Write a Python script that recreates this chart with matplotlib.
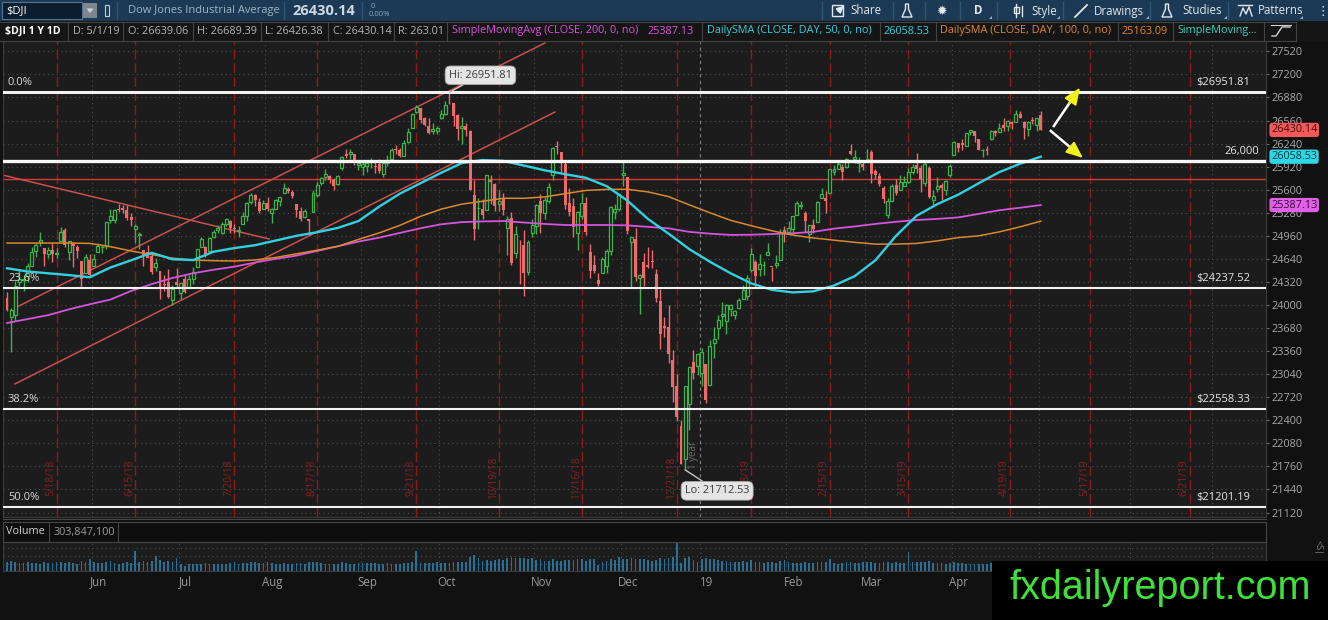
import numpy as np
import pandas as pd
import matplotlib
matplotlib.use('Agg')
import matplotlib.pyplot as plt
import matplotlib.transforms as mtransforms
from matplotlib.patches import Rectangle, Polygon

plt.rcParams['font.family'] = ['Open Sans', 'DejaVu Sans']

# ---- data: $DJI daily candles, 5/2/18 .. 5/1/19 ----
holidays = ['2018-05-28', '2018-07-04', '2018-09-03', '2018-11-22', '2018-12-05',
            '2018-12-25', '2019-01-01', '2019-01-21', '2019-02-18', '2019-04-19',
            '2019-05-27', '2019-07-04']

opens = [
    24097, 23836, 23866, 24317, 24341, 24400, 24543, 24744, 24868, 24792, 24710, 24758, 24714, 24883, 25047, 24738, 24847, 24800, 24605, 24440, 24625,
    24542, 24730, 24800, 24824, 25174, 25175, 25330, 25350, 25320, 25222, 25050, 24970, 24765, 24740, 24680, 24530, 24470, 24294, 24324, 24066, 24320,
    24161, 24362, 24240, 24360, 24524, 24804, 24801, 24749, 24948, 25040, 25005, 25125, 25172, 25060, 25024, 25125, 25240, 25427, 25520, 25430, 25330,
    25420, 25275, 25330, 25450, 25560, 25610, 25570, 25400, 25300, 25220, 25196, 25290, 25530, 25690, 25780, 25790, 25730, 25680, 25900, 26090, 26090, 26090, 25940,
    25916, 25930, 25990, 25930, 25960, 25820, 25970, 26030, 26165, 26150, 26070, 26260, 26460, 26680, 26730, 26590, 26490, 26420, 26410,
    26600, 26650, 26830, 26800, 26630, 26450, 26490, 26420, 25520, 25340, 25330, 25320, 25740, 25680, 25400, 25470, 25070, 25210, 24720, 24700, 24830, 24460, 25000,
    25100, 25450, 25270, 25450, 25800, 26200, 26120, 25960, 25420, 25380, 25000, 25230, 25420, 24740, 24560, 24350, 24450, 24540, 24750, 25290, 25330,
    25800, 25780, 24880, 24920, 24370, 24600, 24550, 24600, 24430, 24050, 23710, 23690, 23240, 22880, 22320, 21860, 22630, 23210, 23150,
    23060, 23180, 22890, 23470, 23680, 23850, 23780, 23940, 23860, 23960, 24090, 24130, 24480, 24600, 24500, 24550, 24700, 24530, 24550, 24630, 25040,
    25020, 25060, 25250, 25370, 25270, 24980, 25110, 25150, 25490, 25490, 25560, 25850, 25890, 25920, 25920, 26140, 26030, 25970, 25960,
    26020, 26120, 25860, 25790, 25630, 25250, 25450, 25660, 25600, 25650, 25710, 25850, 25940, 25900, 25700, 25900, 25460, 25610, 25660, 25600, 25800,
    26080, 26250, 26250, 26200, 26400, 26410, 26300, 26150, 26170, 26300, 26420, 26400, 26500, 26480, 26540, 26540, 26650, 26540, 26440, 26560, 26500,
    26639.06,
]
highs = [
    24185, 23952, 24333, 24479, 24412, 24586, 24800, 24862, 25013, 24792, 24811, 24860, 24789, 25086, 25064, 24894, 24872, 24830, 24605, 24714, 24712,
    24702, 24857, 24827, 25150, 25326, 25336, 25402, 25387, 25385, 25273, 25120, 25010, 24769, 24830, 24720, 24650, 24470, 24414, 24504, 24284, 24509,
    24311, 24423, 24421, 24527, 24777, 24938, 24820, 24950, 25040, 25108, 25148, 25214, 25175, 25128, 25092, 25289, 25424, 25552, 25540, 25480, 25463,
    25500, 25350, 25470, 25503, 25692, 25642, 25600, 25400, 25360, 25330, 25196, 25593, 25710, 25781, 25888, 25800, 25767, 25810, 26070, 26170, 26167, 26100, 26000,
    25980, 26015, 26036, 26010, 26030, 25990, 26080, 26180, 26220, 26180, 26290, 26450, 26670, 26770, 26740, 26610, 26600, 26520, 26480,
    26700, 26830, 26951.81, 26810, 26650, 26610, 26520, 26430, 25740, 25480, 25470, 25800, 25800, 25700, 25600, 25550, 25230, 25290, 25100, 24900, 25040, 24900, 25200,
    25400, 25540, 25500, 25690, 26190, 26280, 26130, 26010, 25630, 25490, 25310, 25550, 25500, 24850, 24700, 24440, 24670, 24780, 25370, 25400, 25560,
    26010, 25780, 24950, 25070, 24430, 24720, 24800, 24770, 24500, 24220, 23840, 24000, 23380, 23040, 22410, 22880, 23140, 23380, 23330,
    23400, 23180, 23520, 23690, 23860, 24040, 24010, 24020, 23930, 24100, 24280, 24420, 24790, 24630, 24710, 24610, 24860, 24530, 24700, 25060, 25090,
    25170, 25240, 25440, 25440, 25300, 25110, 25190, 25440, 25620, 25580, 25890, 25940, 26000, 25950, 26040, 26240, 26150, 26050, 26010,
    26160, 26150, 25890, 25830, 25650, 25480, 25680, 25750, 25800, 25790, 25900, 25960, 26110, 25940, 26000, 25930, 25600, 25780, 25700, 25740, 25950,
    26270, 26250, 26300, 26390, 26430, 26410, 26300, 26170, 26200, 26430, 26430, 26530, 26590, 26570, 26560, 26700, 26690, 26560, 26550, 26610, 26600,
    26689.39,
]
lows = [
    23913, 23344, 23778, 24263, 24198, 24321, 24543, 24671, 24824, 24546, 24650, 24601, 24651, 24883, 24802, 24626, 24525, 24646, 24252, 24440, 24390,
    24542, 24730, 24725, 24780, 25135, 25140, 25294, 25274, 25180, 25102, 24866, 24784, 24535, 24650, 24430, 24470, 24084, 24197, 24100, 23997, 24247,
    24085, 24168, 24240, 24288, 24524, 24804, 24661, 24749, 24928, 25000, 24992, 25100, 24997, 25003, 24938, 25125, 25160, 25400, 25380, 25280, 25330,
    25300, 25140, 25330, 25371, 25550, 25549, 25480, 25220, 25160, 25210, 24965, 25290, 25500, 25670, 25740, 25700, 25600, 25660, 25880, 26040, 26032, 25940, 25880,
    25800, 25850, 25900, 25830, 25830, 25780, 25930, 26030, 26100, 26050, 26070, 26250, 26460, 26660, 26530, 26480, 26370, 26380, 26380,
    26580, 26640, 26790, 26480, 26290, 26240, 26340, 25590, 24900, 25050, 25190, 25320, 25400, 25300, 25300, 25250, 24690, 24550, 24650, 24290, 24120, 24410, 24950,
    24990, 25000, 25200, 25420, 25740, 26090, 25850, 25330, 25230, 24950, 24770, 25200, 24970, 24370, 24440, 24270, 24450, 24450, 24700, 25190, 25300,
    25650, 24980, 24240, 24340, 23880, 24270, 24520, 24510, 24040, 23390, 23560, 23200, 22660, 22390, 21790, 21712.53, 22270, 22980, 23030,
    22880, 22640, 22890, 23270, 23530, 23710, 23600, 23850, 23800, 23940, 24080, 24070, 24460, 24230, 24400, 24420, 24700, 24330, 24520, 24630, 24880,
    25000, 24990, 25250, 25330, 25010, 24880, 25000, 25150, 25480, 25280, 25560, 25800, 25890, 25740, 25900, 26080, 25970, 25850, 25870,
    25990, 25700, 25750, 25650, 25420, 25210, 25450, 25520, 25600, 25650, 25700, 25820, 25830, 25570, 25650, 25480, 25380, 25570, 25460, 25530, 25770,
    26080, 26130, 26150, 26200, 26360, 26260, 26150, 26060, 26080, 26290, 26340, 26400, 26420, 26420, 26440, 26540, 26590, 26300, 26340, 26510, 26410,
    26426.38,
]
closes = [
    23925, 23930, 24263, 24357, 24360, 24543, 24740, 24831, 24899, 24706, 24769, 24714, 24715, 25013, 24834, 24887, 24812, 24753, 24361, 24668, 24416,
    24635, 24814, 24800, 25146, 25241, 25317, 25322, 25321, 25201, 25175, 25090, 24987, 24700, 24658, 24462, 24581, 24253, 24283, 24118, 24216, 24271,
    24307, 24175, 24357, 24456, 24777, 24920, 24700, 24925, 25019, 25064, 25120, 25199, 25065, 25058, 25044, 25242, 25414, 25527, 25451, 25307, 25415,
    25334, 25326, 25463, 25502, 25629, 25584, 25509, 25313, 25188, 25300, 25162, 25559, 25669, 25759, 25822, 25734, 25657, 25790, 26050, 26064, 26125, 25987, 25965,
    25952, 25975, 25996, 25917, 25857, 25971, 25999, 26146, 26155, 26062, 26247, 26406, 26657, 26744, 26562, 26492, 26385, 26440, 26458,
    26651, 26774, 26828, 26627, 26447, 26487, 26431, 25599, 25053, 25340, 25251, 25798, 25707, 25379, 25444, 25317, 25191, 24583, 24985, 24688, 24443, 24875, 25116,
    25381, 25271, 25462, 25635, 26180, 26191, 25989, 25387, 25286, 25081, 25289, 25413, 25017, 24466, 24465, 24286, 24640, 24749, 25366, 25339, 25538,
    25826, 25027, 24948, 24389, 24423, 24370, 24527, 24597, 24101, 23593, 23676, 23324, 22860, 22445, 21792, 22878, 23139, 23062, 23327,
    23346, 22686, 23433, 23531, 23787, 23879, 24002, 23996, 23910, 24066, 24207, 24370, 24706, 24404, 24576, 24553, 24737, 24528, 24580, 25015, 25000,
    25064, 25239, 25412, 25390, 25170, 25106, 25053, 25426, 25543, 25439, 25883, 25891, 25954, 25851, 26032, 26092, 26058, 25985, 25916,
    26026, 25820, 25807, 25673, 25473, 25450, 25651, 25555, 25703, 25710, 25849, 25914, 25887, 25746, 25963, 25502, 25517, 25658, 25626, 25717, 25929,
    26258, 26179, 26218, 26385, 26425, 26341, 26151, 26157, 26143, 26412, 26385, 26453, 26450, 26560, 26511, 26656, 26597, 26462, 26543, 26554, 26593,
    26430.14,
]
volumes_m = [
    300, 330, 290, 260, 270, 280, 270, 250, 240, 290, 260, 250, 290, 280, 270, 280, 260, 220, 320, 290, 380,
    290, 270, 260, 300, 310, 260, 240, 260, 280, 270, 640, 280, 330, 300, 320, 470, 350, 290, 330, 300, 430,
    230, 170, 220, 210, 240, 230, 250, 220, 230, 210, 230, 240, 250, 280, 230, 260, 270, 290, 280, 270, 260,
    280, 270, 240, 230, 260, 230, 220, 260, 250, 230, 300, 290, 290, 250, 240, 230, 220, 240, 280, 250, 230, 220, 250,
    250, 250, 260, 250, 240, 230, 250, 240, 230, 240, 250, 260, 280, 640, 270, 250, 270, 260, 300,
    250, 270, 260, 280, 290, 280, 300, 450, 520, 410, 330, 350, 330, 360, 380, 350, 420, 450, 410, 420, 430, 400, 420,
    360, 370, 320, 330, 400, 330, 330, 350, 360, 360, 380, 380, 330, 400, 370, 200, 300, 320, 390, 340, 450,
    390, 400, 430, 400, 380, 370, 360, 330, 360, 420, 400, 420, 460, 900, 250, 430, 450, 360, 290,
    370, 420, 400, 370, 340, 320, 320, 280, 300, 290, 310, 290, 340, 300, 290, 270, 300, 300, 260, 330, 350,
    300, 270, 270, 260, 290, 260, 250, 280, 290, 300, 380, 250, 240, 250, 280, 290, 270, 260, 300,
    300, 290, 250, 270, 280, 300, 270, 280, 270, 260, 620, 280, 300, 280, 290, 330, 270, 260, 250, 240, 260,
    280, 250, 260, 240, 220, 210, 240, 210, 210, 250, 230, 230, 250, 260, 210, 240, 230, 240, 230, 220, 270,
    303.8471,
]
# moving averages as drawn by the platform, read every 5th session
sma50 = [24510, 24465, 24440, 24415, 24385, 24520, 24620, 24725, 24635, 24624, 24740, 24790, 24830, 24895, 24960, 25010, 25070,
         25165, 25365, 25545, 25690, 25835, 25970, 26012, 26000, 25935, 25870, 25815, 25765, 25650, 25450, 25195, 24990, 24775,
         24600, 24440, 24300, 24210, 24175, 24190, 24270, 24400, 24620, 24960, 25240, 25400, 25530, 25690, 25845, 25960, 26058.53]
sma100 = [24860, 24860, 24860, 24860, 24855, 24810, 24750, 24700, 24650, 24624, 24615, 24610, 24625, 24660, 24710, 24760, 24815,
          24910, 25000, 25105, 25230, 25330, 25400, 25440, 25481, 25481, 25500, 25545, 25590, 25604, 25606, 25570, 25504, 25390,
          25280, 25175, 25100, 25030, 24970, 24930, 24900, 24870, 24845, 24845, 24855, 24890, 24935, 24960, 25015, 25085, 25163.09]
sma200 = [23750, 23805, 23860, 23940, 24010, 24075, 24195, 24290, 24375, 24440, 24490, 24532, 24590, 24640, 24685, 24750, 24815,
          24880, 24935, 25000, 25065, 25120, 25150, 25160, 25165, 25145, 25125, 25110, 25110, 25110, 25105, 25085, 25064, 25015,
          24990, 24973, 24975, 24985, 24995, 25015, 25060, 25090, 25125, 25155, 25180, 25195, 25215, 25265, 25315, 25350, 25387.13]

fib_levels = [26951.81, 24237.52, 22558.33, 21201.19]
fib_pcts = ['0.0%', '23.6%', '38.2%', '50.0%']
round_level = 26000
red_level = 25750
expiries = ['2018-05-18', '2018-06-15', '2018-07-20', '2018-08-17', '2018-09-21', '2018-10-19', '2018-11-16',
            '2018-12-21', '2019-01-18', '2019-02-15', '2019-03-15', '2019-04-19', '2019-05-17', '2019-06-21']
# hand-drawn trend lines: (session, price) -> (session, price)
trend_lines = [((1.9, 22904), (132.5, 26678)), ((1.9, 23958), (130.1, 27636)), ((-1.2, 25805), (63.4, 24916))]
arrows = [((253.0, 26470), (259.5, 27017)), ((252.2, 26427), (260.2, 26040))]

# ---------------------------------------------------------------------------
days = pd.bdate_range('2018-05-02', '2019-07-31')
days = days[~days.isin(pd.to_datetime(holidays))]
n = len(closes)
x = np.arange(n)
o, h, l, c = (np.array(a, dtype=float) for a in (opens, highs, lows, closes))


def pos_of(d):
    d = pd.Timestamp(d)
    k = days.searchsorted(d)
    return float(k) if k < len(days) and days[k] == d else k - 0.5


W, H = 1328, 620
fig = plt.figure(figsize=(W / 100, H / 100), dpi=100, facecolor='#111111')


def box(x0, y0, x1, y1):
    return [x0 / W, 1 - y1 / H, (x1 - x0) / W, (y1 - y0) / H]


PX0, PX1 = 3, 1266
xl = ((PX0 - 7.0) / 4.135, (PX1 - 7.0) / 4.135)


def val_at(y):
    return 26951.81 - (y - 92.3) / 0.07206


BG = '#1c1c1c'
GRID = '#4d4d4d'
green, red = '#3cb44b', '#ef6b6b'

ax = fig.add_axes(box(PX0, 41, PX1, 517), facecolor=BG)
ax.set_xlim(*xl)
ax.set_ylim(val_at(517), val_at(41))
for s in ax.spines.values():
    s.set_color('#3c3c3c')
ax.yaxis.tick_right()
yt = np.arange(21120, 27521, 320)
ax.set_yticks(yt)
ax.set_xticks([])
ax.tick_params(axis='y', colors='#707070', labelcolor='#a8a8a8', labelsize=7.8, length=2, pad=2)
for v in yt:
    ax.axhline(v, color=GRID, ls=(0, (1, 3)), lw=0.8, zorder=0)

months = pd.date_range('2018-06-01', '2019-07-01', freq='MS')
mpos = [days.searchsorted(m) - 0.5 for m in months]
mlab = ['19' if m.month == 1 else m.strftime('%b') for m in months]
for m, p in zip(months, mpos):
    if m.month == 1:
        ax.axvline(p, color='#808080', ls=(0, (3, 3)), lw=0.8, zorder=0)
    else:
        ax.axvline(p, color=GRID, ls=(0, (1, 3)), lw=0.8, zorder=0)

bl = mtransforms.blended_transform_factory(ax.transData, ax.transAxes)
for d in expiries:
    p = pos_of(d)
    t = pd.Timestamp(d)
    ax.axvline(p, color='#8c1c1c', ls=(0, (7, 3)), lw=1.0, zorder=1)
    ax.text(p - 1.3, 0.083, f'{t.month}/{t.day}/{t:%y}', transform=bl, rotation=90,
            ha='center', va='center', color='#8a2020', fontsize=7.3, zorder=1)

ax.axhline(red_level, color='#d83a3a', lw=1.0, zorder=2)
for (x0, y0), (x1, y1) in trend_lines:
    ax.plot([x0, x1], [y0, y1], color='#c9504c', lw=1.1, zorder=2)

# candles
up = c >= o
ax.vlines(x[up], l[up], h[up], color=green, lw=1.0, zorder=3)
ax.vlines(x[~up], l[~up], h[~up], color=red, lw=1.0, zorder=3)
lo_b = np.minimum(o, c)
hb = np.maximum(np.abs(c - o), 8)
ax.bar(x[up], hb[up], bottom=lo_b[up], width=0.72, facecolor=BG, edgecolor=green, lw=0.9, zorder=4)
ax.bar(x[~up], hb[~up], bottom=lo_b[~up], width=0.72, color=red, lw=0, zorder=4)

xs = x[::5]
ax.plot(xs, sma200, color='#d455dc', lw=1.3, zorder=5)
ax.plot(xs, sma100, color='#d98a2c', lw=1.1, zorder=5)
ax.plot(xs, sma50, color='#32d0e0', lw=1.7, zorder=5)

# fib + level lines
for i, (v, pct) in enumerate(zip(fib_levels, fib_pcts)):
    ax.axhline(v, color='#f2f2f2', lw=2.2 if i == 0 else 1.5, zorder=6)
    ax.annotate(pct, xy=(0, v), xycoords=('axes fraction', 'data'), xytext=(5, 4),
                textcoords='offset pixels', color='#d8d8d8', fontsize=8, va='bottom', ha='left', zorder=7)
    ax.annotate(f'${v:.2f}', xy=(1, v), xycoords=('axes fraction', 'data'), xytext=(-16, 4),
                textcoords='offset pixels', color='#e6e6e6', fontsize=8, va='bottom', ha='right', zorder=7)
ax.axhline(round_level, color='#f7f7f7', lw=2.4, zorder=6)
ax.annotate(f'{round_level:,}', xy=(1, round_level), xycoords=('axes fraction', 'data'), xytext=(-7, 4),
            textcoords='offset pixels', color='#e6e6e6', fontsize=8, va='bottom', ha='right', zorder=7)

ihi, ilo = int(np.argmax(h)), int(np.argmin(l))
lbl_box = dict(boxstyle='round,pad=0.35,rounding_size=0.5', fc='#e4e4e4', ec='#a8a8a8', lw=0.6)
ax.annotate(f'Hi: {h[ihi]:.2f}', xy=(ihi, h[ihi]), xytext=(31, 17), textcoords='offset pixels',
            ha='center', va='center', fontsize=7.8, color='#3a3a3a', bbox=lbl_box, zorder=8,
            arrowprops=dict(arrowstyle='-', color='#c8c8c8', lw=1, shrinkA=0, shrinkB=0))
ax.annotate(f'Lo: {l[ilo]:.2f}', xy=(ilo, l[ilo]), xytext=(32, -21), textcoords='offset pixels',
            ha='center', va='center', fontsize=7.8, color='#3a3a3a', bbox=lbl_box, zorder=8,
            arrowprops=dict(arrowstyle='-', color='#c8c8c8', lw=1, shrinkA=0, shrinkB=0))
ax.text(ilo + 2.0, val_at(455), '1 year', rotation=90, ha='center', va='center',
        color='#6e6e6e', fontsize=7, zorder=2)

for (x0, y0), (x1, y1) in arrows:
    xm, ym = x0 + (x1 - x0) * 0.66, y0 + (y1 - y0) * 0.66
    ax.plot([x0, xm], [y0, ym], color='white', lw=1.8, zorder=8, solid_capstyle='butt')
    xq, yq = x0 + (x1 - x0) * 0.6, y0 + (y1 - y0) * 0.6
    ax.annotate('', xy=(x1, y1), xytext=(xq, yq), zorder=9,
                arrowprops=dict(arrowstyle='-|>,head_length=1.0,head_width=0.42', color='#f2f21a',
                                lw=1.5, mutation_scale=10, shrinkA=0, shrinkB=0))

bt = mtransforms.blended_transform_factory(ax.transAxes, ax.transData)
tags = [(c[-1], '#f25a5a', '#4a0a0a'), (sma50[-1], '#2fd6e6', '#063a40'), (sma200[-1], '#e060e6', '#3c0640')]
for v, fc, tc in tags:
    ax.text(1.004, v, f'{v:.2f}', transform=bt, ha='left', va='center', fontsize=7.8, color=tc,
            clip_on=False, zorder=9, bbox=dict(boxstyle='round,pad=0.15,rounding_size=0.25', fc=fc, ec='none'))

# volume pane
vax = fig.add_axes(box(PX0, 542, PX1, 571), facecolor=BG)
vax.set_xlim(*xl)
vax.set_ylim(0, 930)
vax.bar(x, volumes_m, width=0.42, color='#2c6f95', lw=0, zorder=3)
for v in (230, 480, 730):
    vax.axhline(v, color=GRID, ls=(0, (1, 3)), lw=0.8, zorder=0)
for p in mpos:
    vax.axvline(p, color=GRID, ls=(0, (1, 3)), lw=0.8, zorder=0)
vax.set_xticks([])
vax.set_yticks([])
for s in vax.spines.values():
    s.set_color('#3c3c3c')
vb = mtransforms.blended_transform_factory(vax.transData, vax.transAxes)
# month labels right of April sit under the watermark box, so only the visible ones are drawn
for m, p, t in zip(months, mpos, mlab):
    if m < pd.Timestamp('2019-05-01'):
        vax.text(p + 1.7, -0.38, t, transform=vb, ha='center', va='center', color='#9a9a9a',
                 fontsize=8.3, clip_on=False)

# ---- chrome (toolbar, study bar, headers, watermark) in pixel space ----
ov = fig.add_axes([0, 0, 1, 1])
ov.set_xlim(0, W)
ov.set_ylim(H, 0)
ov.axis('off')
ov.set_zorder(20)
ov.patch.set_alpha(0)

ov.add_patch(Rectangle((0, 0), W, 21, fc='#1c3a55', ec='none'))
ov.add_patch(Rectangle((2, 2), 80, 17, fc='#0b1d2e', ec='#56728d', lw=0.8))
ov.text(6, 11, '$DJI', color='white', fontsize=8, va='center')
ov.add_patch(Rectangle((83, 3), 14, 15, fc='#7c868f', ec='none'))
ov.add_patch(Polygon([(86.5, 8.5), (93.5, 8.5), (90, 13)], fc='#d0d4d8'))
ov.add_patch(Rectangle((105, 5), 4, 11, fill=False, ec='#c4ccd4', lw=0.8))
for sx in (117, 284, 362, 822, 893, 925, 960, 997, 1063, 1150, 1228):
    ov.plot([sx, sx], [2, 19], color='#2f5677', lw=1)
ov.text(128, 11, 'Dow Jones Industrial Average', color='#9fb4c7', fontsize=8, va='center')
ov.text(292, 11, f'{c[-1]:.2f}', color='#cdd8e2', fontsize=10.5, fontweight='bold', va='center')
ov.text(371, 6.5, '0', color='#8ea4b8', fontsize=5.5, va='center')
ov.text(369, 15, '0.00%', color='#8ea4b8', fontsize=5.5, va='center')
tool = '#e1e8ee'
ov.add_patch(Rectangle((832, 5), 11, 11, fill=False, ec=tool, lw=1))
ov.annotate('', xy=(846, 4), xytext=(836, 13), arrowprops=dict(arrowstyle='-|>', color=tool, lw=1.2))
ov.text(850, 11, 'Share', color=tool, fontsize=8.3, va='center')
for fx in (907, 1167):
    ov.add_patch(Polygon([(fx - 1.5, 4), (fx + 1.5, 4), (fx + 1.5, 9), (fx + 5, 17), (fx - 5, 17), (fx - 1.5, 9)],
                         fill=False, ec=tool, lw=1))
ov.text(942, 11, '✹', color=tool, fontsize=9, va='center', ha='center', family='DejaVu Sans')
ov.text(978, 11, 'D', color=tool, fontsize=8.3, va='center', ha='center', fontweight='bold')
ov.plot([1016, 1016], [4, 17], color=tool, lw=1)
ov.add_patch(Rectangle((1013.5, 7), 5, 6, fc='none', ec=tool, lw=1))
ov.plot([1022, 1022], [6, 16], color=tool, lw=1)
ov.text(1031, 11, 'Style', color=tool, fontsize=8.3, va='center')
ov.plot([1075, 1087], [17, 5], color=tool, lw=1.3)
ov.text(1094, 11, 'Drawings', color=tool, fontsize=8.3, va='center')
ov.text(1182, 11, 'Studies', color=tool, fontsize=8.3, va='center')
ov.plot([1238, 1252], [4.5, 4.5], color=tool, lw=1)
ov.plot([1240, 1243, 1246, 1249, 1252], [16, 8, 14, 7, 16], color=tool, lw=1)
ov.text(1258, 11, 'Patterns', color=tool, fontsize=8.3, va='center')
for cx in (1057, 1146, 1224, 1300, 989):
    ov.add_patch(Polygon([(cx, 19), (cx + 3, 19), (cx + 3, 16)], fc='#9fb0c0'))
ov.text(1323, 11, '⋮', color=tool, fontsize=9, va='center', ha='center', family='DejaVu Sans')

# study / quote bar
ov.add_patch(Rectangle((0, 21), W, 20, fc='#151515', ec='none'))
ov.plot([0, 1296], [21.5, 21.5], color='#444', lw=0.8)
ov.plot([0, 1296], [40.5, 40.5], color='#444', lw=0.8)
for sx in (68, 123, 193, 261, 328, 394, 447, 702, 880, 936, 1118, 1173, 1264, 1296):
    ov.plot([sx, sx], [21.5, 40.5], color='#444', lw=0.8)
gray = '#b4b4b4'
fs = 7.85
ov.text(5, 31, '$DJI 1 Y 1D', color='white', fontsize=7.6, fontweight='bold', va='center')
ov.text(73, 31, f'D: {days[n - 1].month}/{days[n - 1].day}/{days[n - 1]:%y}', color=gray, fontsize=fs, va='center')
ov.text(128, 31, f'O: {o[-1]:.2f}', color=gray, fontsize=fs, va='center')
ov.text(197, 31, f'H: {h[-1]:.2f}', color=gray, fontsize=fs, va='center')
ov.text(265, 31, f'L: {l[-1]:.2f}', color=gray, fontsize=fs, va='center')
ov.text(333, 31, f'C: {c[-1]:.2f}', color=gray, fontsize=fs, va='center')
ov.text(398, 31, f'R: {h[-1] - l[-1]:.2f}', color=gray, fontsize=fs, va='center')
ov.text(452, 31, 'SimpleMovingAvg (CLOSE, 200, 0, no)', color='#e050e0', fontsize=fs, va='center')
ov.text(648, 31, f'{sma200[-1]:.2f}', color='#e050e0', fontsize=fs, va='center')
ov.text(707, 31, 'DailySMA (CLOSE, DAY, 50, 0, no)', color='#30cfe0', fontsize=fs, va='center')
ov.text(884, 31, f'{sma50[-1]:.2f}', color='#30cfe0', fontsize=fs, va='center')
ov.text(940, 31, 'DailySMA (CLOSE, DAY, 100, 0, no)', color='#e0882c', fontsize=fs, va='center')
ov.text(1122, 31, f'{sma100[-1]:.2f}', color='#e0882c', fontsize=fs, va='center')
ov.text(1177, 31, 'SimpleMoving...', color='#35d6c2', fontsize=fs, va='center')
ov.plot([1272, 1276, 1282, 1286, 1290], [36, 36, 27, 27, 27], color='#d0d0d0', lw=1)
ov.plot([1271, 1291], [25, 25], color='#d0d0d0', lw=0.8)

# volume header
ov.add_patch(Rectangle((3, 522), 1263, 20, fc='#0e0e0e', ec='#474747', lw=0.8))
ov.plot([PX0, PX1], [519, 519], color='#474747', lw=0.8)
ov.plot([49, 49], [522, 542], color='#474747', lw=0.8)
ov.plot([118, 118], [522, 542], color='#474747', lw=0.8)
ov.text(6, 532, 'Volume', color='#d0d0d0', fontsize=7.8, va='center')
ov.text(54, 532, f'{volumes_m[-1] * 1e6:,.0f}', color='#9c9c9c', fontsize=7.8, va='center')
ov.text(1318, 548, '<S|', color='#8a8a8a', fontsize=6.5, rotation=270, ha='center', va='center')

# watermark
ov.add_patch(Rectangle((992, 561), W - 992, H - 561, fc='#000000', ec='none'))
ov.text(1160, 588, 'fxdailyreport.com', color='#3fe03a', fontsize=28.5, ha='center', va='center',
        family='Liberation Sans')

fig.savefig('out.png', dpi=100, facecolor=fig.get_facecolor())
